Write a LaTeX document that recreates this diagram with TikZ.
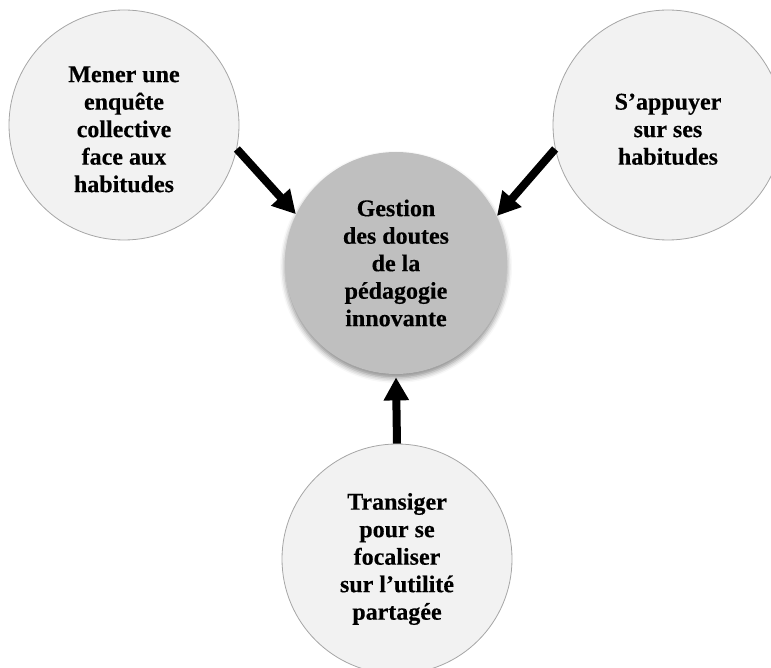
\documentclass[tikz,border=0pt]{standalone}
\usepackage{fontspec}
\setmainfont{Liberation Serif}[BoldFeatures={FakeBold=0.3}]
\usetikzlibrary{arrows.meta,shadows.blur}
\definecolor{pale}{HTML}{F2F2F2}
\definecolor{rim}{HTML}{A6A6A6}
\definecolor{core}{HTML}{BFBFBF}
\begin{document}
\begin{tikzpicture}[x=1pt,y=-1pt,
  bubble/.style={circle, minimum size=230pt, inner sep=0pt, fill=pale,
    draw=rim, line width=0.8pt, align=center,
    font=\bfseries\fontsize{24}{27.5}\selectfont},
  hub/.style={bubble, minimum size=222pt, fill=core, draw=none,
    blur shadow={shadow xshift=0pt, shadow yshift=-4pt,
      shadow blur radius=5pt, shadow opacity=45}},
  push/.style={line width=8pt, -{Triangle[width=24pt,length=23pt]}}]
\useasboundingbox (0,0) rectangle (771,668);
\clip (0,0) rectangle (771,668);

% central theme
\node[hub] (C) at (396,263) {Gestion\\des doutes\\de la\\pédagogie\\innovante};

% surrounding strategies
\node[bubble] (L) at (124,125) {\\[-3pt]Mener une\\enquête\\collective\\face aux\\habitudes};
\node[bubble] (R) at (668,125) {\\[-3pt]S’appuyer\\sur ses\\habitudes};
\node[bubble] (B) at (397,559) {Transiger\\pour se\\focaliser\\sur l’utilité\\partagée};

% arrows pointing to the centre
\draw[push] (L.-12.5) -- (C.154);
\draw[push] (R.192.7) -- (C.25.4);
\draw[push] (B.north) -- ([yshift=-3pt]C.south);
\end{tikzpicture}
\end{document}
